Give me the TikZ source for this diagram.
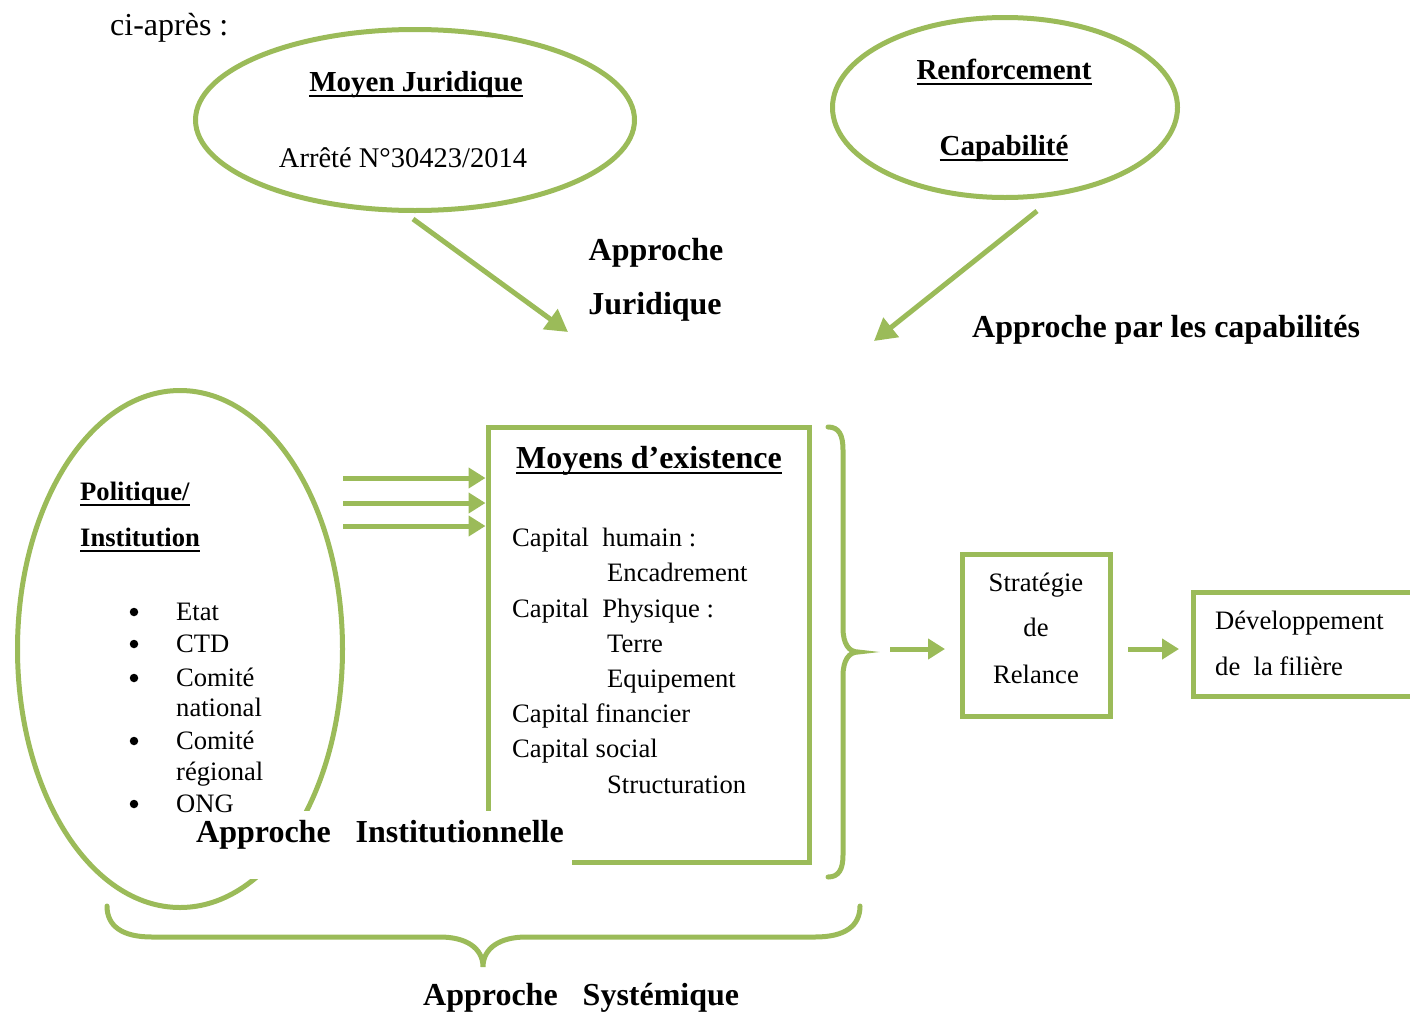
\documentclass[tikz,border=0pt]{standalone}
\usepackage{fontspec}
\setmainfont{Liberation Serif}
\usetikzlibrary{arrows.meta,shapes.geometric}
\definecolor{og}{HTML}{9BBB59}
\newcommand\ulx[1]{\setbox0\hbox{#1}\rlap{\rule[-6pt]{\wd0}{2.4pt}}\box0}
\newcommand\txr{\fontsize{26.6}{35.3}\selectfont}
\newcommand\txb{\fontsize{32}{40}\selectfont\bfseries}
\newcommand\txm{\fontsize{29}{36}\selectfont\bfseries}
\begin{document}
\begin{tikzpicture}[x=1pt,y=-1pt,
  ell/.style={draw=og, line width=5pt, ellipse, inner sep=0},
  bx/.style={draw=og, line width=5pt, rectangle, inner sep=0},
  arr/.style={draw=og, line width=5pt, -{Triangle[length=22pt,width=24pt]}},
  sarr/.style={draw=og, line width=5pt, -{Triangle[length=17pt,width=20pt]}},
  brace/.style={draw=og, line width=5pt, line cap=round},
  bul/.style={circle, fill=black, inner sep=0, minimum size=8.5pt},
  tl/.style={inner sep=0, anchor=base west},
  tc/.style={inner sep=0, anchor=base}]
\useasboundingbox (0,0) rectangle (1410,1012);
\clip (0,0) rectangle (1410,1012);

% top text
\node[tl] (ci) at (110,35) {\fontsize{32}{38}\selectfont ci-après :};

% ellipses
\node[ell, minimum width=439pt, minimum height=181pt] (mj) at (415,120) {};
\node[ell, minimum width=345pt, minimum height=180pt] (rc) at (1005,107.5) {};
\node[ell, minimum width=325pt, minimum height=517pt] (pi) at (180,649) {};

\node[tc] (mjt) at (416,91) {\txm\ulx{Moyen Juridique}};
\node[tc] (mja) at (403,167) {\fontsize{28.5}{34}\selectfont Arrêté N°30423/2014};
\node[tc] (rct1) at (1004,79) {\txm\ulx{Renforcement}};
\node[tc] (rct2) at (1004,155) {\txm\ulx{Capabilité}};

% diagonal arrows
\coordinate (a1s) at (413,219);
\coordinate (a1e) at (568,332);
\coordinate (a2s) at (1037,211);
\coordinate (a2e) at (874,341);
\draw[arr] (a1s) -- (a1e);
\draw[arr] (a2s) -- (a2e);

\node[tc] (aj1) at (656,260) {\txb Approche};
\node[tc] (aj2) at (655,314) {\txb Juridique};
\node[tl] (apc) at (972,337) {\txb Approche par les capabilités};

% Moyens box
\node[bx, minimum width=321pt, minimum height=435pt] (me) at (648.5,644.5) {};

% left ellipse text
\node[tl] (pol) at (80,500) {\fontsize{26.6}{32}\selectfont\bfseries\ulx{Politique/}};
\node[tl] (ins) at (80,546) {\fontsize{26.6}{32}\selectfont\bfseries\ulx{Institution}};
\foreach \n/\yy/\t/\b in {b1/620/Etat/1, b2/652/CTD/1, b3/686/Comité/1, b4/716/national/0, b5/749/Comité/1, b6/780/régional/0, b7/812/ONG/1}{
  \node[tl] (\n t) at (176,\yy) {\txr \t};
  \ifnum\b=1 \node[bul] (\n d) at (134,\yy-8) {}; \fi
}

% three arrows
\foreach \n/\yy in {h1/478, h2/503, h3/526}{
  \coordinate (\n) at (343,\yy);
  \draw[sarr] (\n) -- (me.west |- \n);
}

% Moyens text
\node[tc] (met) at (649,468) {\txb\ulx{Moyens d’existence}};
\node[tl] (c1) at (512,546) {\txr Capital\ \ humain :};
\node[tl] (c2) at (607,581) {\txr Encadrement};
\node[tl] (c3) at (512,617) {\txr Capital\ \ Physique :};
\node[tl] (c4) at (607,652) {\txr Terre};
\node[tl] (c5) at (607,687) {\txr Equipement};
\node[tl] (c6) at (512,722) {\txr Capital financier};
\node[tl] (c7) at (512,757) {\txr Capital social};
\node[tl] (c8) at (607,793) {\txr Structuration};

% white patch and Approche Institutionnelle
\fill[white] (250,811) rectangle (572,879);
\node[tl] (ai) at (196,842) {\txb Approche\hspace{17pt} Institutionnelle};

% right brace
\draw[brace] (828,427) .. controls (839,427) and (843,435) .. (843,450) -- (843,628)
  .. controls (843,644) and (849,652) .. (858,652)
  .. controls (849,652) and (843,660) .. (843,676) -- (843,855)
  .. controls (843,869) and (839,877) .. (828,877);

% strategy and development
\node[bx, minimum width=148pt, minimum height=162pt] (sr) at (1036.5,635.5) {};
\node[tc] (sr1) at (1036,591) {\txr Stratégie};
\node[tc] (sr2) at (1036,636) {\txr de};
\node[tc] (sr3) at (1036,683) {\txr Relance};
\node[bx, minimum width=240pt, minimum height=104pt, anchor=west] (dv) at (1191,644.5) {};
\node[tl] (dv1) at (1215,629) {\txr Développement};
\node[tl] (dv2) at (1215,675) {\txr de\ \ la filière};

\coordinate (r1) at (890,649);
\coordinate (r2) at (1128,649);
\draw[sarr] (r1) -- ([xshift=-15pt]sr.west |- r1);
\draw[sarr] (r2) -- ([xshift=-12pt]dv.west |- r2);

% bottom brace
\draw[brace] (107,906) .. controls (107,926) and (122,937) .. (152,937) -- (440,937)
  .. controls (466,937) and (483,948) .. (483,967)
  .. controls (483,948) and (500,937) .. (526,937) -- (815,937)
  .. controls (845,937) and (860,926) .. (860,906);
\node[tl] (as) at (423,1005) {\txb Approche\hspace{17pt} Systémique};
\end{tikzpicture}
\end{document}
